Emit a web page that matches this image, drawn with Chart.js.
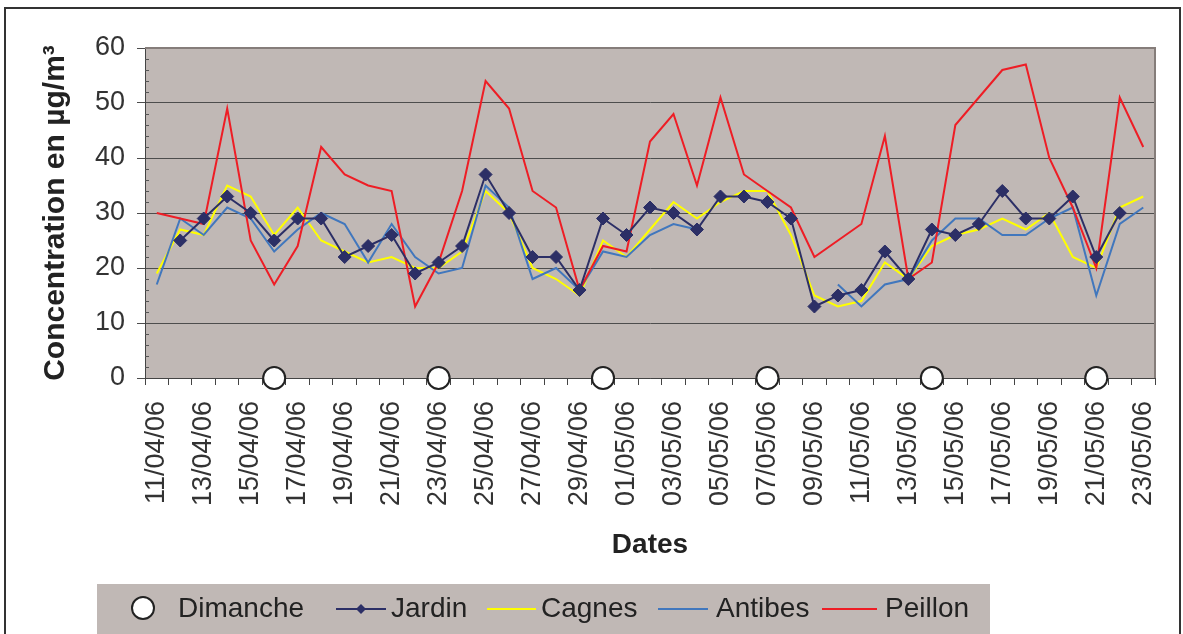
<!DOCTYPE html>
<html><head><meta charset="utf-8">
<script src="https://cdn.jsdelivr.net/npm/chart.js@4/dist/chart.umd.min.js"></script>
<style>html,body{margin:0;padding:0;background:#fff;}canvas{display:block;}</style>
</head><body>
<canvas id="c" width="1183" height="634"></canvas>
<script>
const categories = ['11/04/06','12/04/06','13/04/06','14/04/06','15/04/06','16/04/06','17/04/06','18/04/06','19/04/06','20/04/06',
  '21/04/06','22/04/06','23/04/06','24/04/06','25/04/06','26/04/06','27/04/06','28/04/06','29/04/06','30/04/06',
  '01/05/06','02/05/06','03/05/06','04/05/06','05/05/06','06/05/06','07/05/06','08/05/06','09/05/06','10/05/06',
  '11/05/06','12/05/06','13/05/06','14/05/06','15/05/06','16/05/06','17/05/06','18/05/06','19/05/06','20/05/06',
  '21/05/06','22/05/06','23/05/06'];
const jardin  = [null,25,29,33,30,25,29,29,22,24,26,19,21,24,37,30,22,22,16,29,26,31,30,27,33,33,32,29,13,15,16,23,18,27,26,28,34,29,29,33,22,30,null];
const cagnes  = [19,27,26,35,33,26,31,25,23,21,22,20,20,23,34,30,20,18,15,25,22,27,32,29,32,34,34,26,15,13,14,21,18,24,26,27,29,27,30,22,20,31,33];
const antibes = [17,29,26,31,29,23,27,30,28,21,28,22,19,20,35,31,18,20,16,23,22,26,28,27,null,null,null,null,null,17,13,17,18,25,29,29,26,26,29,31,15,28,31];
const peillon = [30,29,28,49,25,17,24,42,37,35,34,13,21,34,54,49,34,31,16,24,23,43,48,35,51,37,34,31,22,25,28,44,18,21,46,51,56,57,40,31,20,51,42];
const dimanches = ['16/04/06','23/04/06','30/04/06','07/05/06','14/05/06','21/05/06'];
const yMin = 0, yMax = 60, yStep = 10, yMinorStep = 2;

const FONT = "'Liberation Sans', Arial, sans-serif";
const C_JARDIN = '#2c2f66', C_CAGNES = '#ffff00', C_ANTIBES = '#4177bd', C_PEILLON = '#ee1d25';
const PLOT_BG = '#c0b8b5';

const dimancheData = categories.map(c => dimanches.includes(c) ? 0 : null);

const decorPlugin = {
  id: 'decor',
  beforeDraw(chart) {
    const {ctx, chartArea: a} = chart;
    ctx.save();
    ctx.fillStyle = PLOT_BG;
    ctx.fillRect(a.left, a.top, a.right - a.left, a.bottom - a.top);
    ctx.restore();
  },
  beforeDatasetsDraw(chart) {
    const {ctx, chartArea: a, scales} = chart;
    ctx.save();
    ctx.strokeStyle = '#857d7a';
    ctx.lineWidth = 2;
    ctx.beginPath();
    ctx.moveTo(a.left, a.top); ctx.lineTo(a.right, a.top); ctx.lineTo(a.right, a.bottom);
    ctx.stroke();
    ctx.strokeStyle = '#555';
    ctx.lineWidth = 1;
    const y = scales.y;
    for (let v = yMin; v <= yMax; v += yMinorStep) {
      if (v % yStep === 0) continue;
      const p = Math.round(y.getPixelForValue(v)) + 0.5;
      ctx.beginPath(); ctx.moveTo(a.left, p); ctx.lineTo(a.left + 4, p); ctx.stroke();
    }
    ctx.restore();
  },
  afterDraw(chart) {
    const {ctx} = chart;
    ctx.save();
    ctx.strokeStyle = '#333';
    ctx.lineWidth = 2;
    ctx.strokeRect(5, 8, 1175, 660);
    ctx.fillStyle = PLOT_BG;
    ctx.fillRect(97, 584, 893, 52);
    ctx.font = '28px ' + FONT;
    ctx.textBaseline = 'middle';
    ctx.textAlign = 'left';
    const ly = 609;
    const ds = chart.data.datasets;
    const byLabel = l => ds.find(d => d.label === l);
    ctx.beginPath(); ctx.arc(143, ly - 1, 11, 0, Math.PI * 2);
    ctx.fillStyle = '#fff'; ctx.fill();
    ctx.strokeStyle = '#222'; ctx.lineWidth = 2; ctx.stroke();
    ctx.fillStyle = '#222'; ctx.fillText('Dimanche', 178, ly);
    const items = [
      {label: 'Jardin', x0: 336, x1: 386, tx: 391, diamond: true},
      {label: 'Cagnes', x0: 487, x1: 536, tx: 541},
      {label: 'Antibes', x0: 658, x1: 708, tx: 716},
      {label: 'Peillon', x0: 822, x1: 877, tx: 885}
    ];
    items.forEach(it => {
      const d = byLabel(it.label);
      ctx.strokeStyle = d.borderColor; ctx.lineWidth = 2;
      ctx.beginPath(); ctx.moveTo(it.x0, ly); ctx.lineTo(it.x1, ly); ctx.stroke();
      if (it.diamond) {
        const cx = (it.x0 + it.x1) / 2, r = 5;
        ctx.fillStyle = d.borderColor;
        ctx.beginPath(); ctx.moveTo(cx - r, ly); ctx.lineTo(cx, ly - r); ctx.lineTo(cx + r, ly); ctx.lineTo(cx, ly + r); ctx.closePath(); ctx.fill();
      }
      ctx.fillStyle = '#222';
      ctx.fillText(it.label, it.tx, ly);
    });
    ctx.restore();
  }
};

new Chart(document.getElementById('c'), {
  type: 'line',
  data: {
    labels: categories,
    datasets: [
      {label: 'Dimanche', data: dimancheData, showLine: false, pointRadius: 11, pointHoverRadius: 11,
       pointBackgroundColor: '#fff', pointBorderColor: '#222', pointBorderWidth: 2, borderColor: '#222', order: 0, clip: false},
      {label: 'Jardin', data: jardin, borderColor: C_JARDIN, backgroundColor: C_JARDIN, borderWidth: 2,
       pointStyle: 'rectRot', pointRadius: 6.5, pointBackgroundColor: C_JARDIN, pointBorderColor: C_JARDIN, pointBorderWidth: 1, order: 1, clip: false},
      {label: 'Peillon', data: peillon, borderColor: C_PEILLON, borderWidth: 2, pointRadius: 0, order: 2, clip: false},
      {label: 'Antibes', data: antibes, borderColor: C_ANTIBES, borderWidth: 2, pointRadius: 0, order: 3, clip: false},
      {label: 'Cagnes', data: cagnes, borderColor: C_CAGNES, borderWidth: 2, pointRadius: 0, order: 4, clip: false}
    ]
  },
  options: {
    responsive: false,
    animation: false,
    events: [],
    layout: {padding: {left: 10, top: 48, right: 28, bottom: 64}},
    elements: {line: {tension: 0}},
    plugins: {legend: {display: false}, tooltip: {enabled: false}, title: {display: false}},
    scales: {
      x: {
        type: 'category',
        offset: true,
        grid: {offset: true, drawOnChartArea: false, drawTicks: true, tickLength: 7, color: '#444', lineWidth: 1},
        border: {display: true, color: '#444', width: 1},
        ticks: {autoSkip: false, maxRotation: 90, minRotation: 90, padding: 16, color: '#333',
          font: {family: FONT, size: 27},
          callback: (v, i) => i % 2 === 0 ? categories[i] : ''},
        title: {display: true, text: 'Dates', color: '#222', font: {family: FONT, size: 28, weight: 'bold'}, padding: {top: 0, bottom: 8}},
        afterFit: s => { s.height = 192; s.paddingLeft = 0; s.paddingRight = 0; }
      },
      y: {
        min: yMin, max: yMax,
        ticks: {stepSize: yStep, padding: 12, color: '#333', font: {family: FONT, size: 27}},
        grid: {color: '#4d4d4d', lineWidth: 1, tickLength: 8, drawTicks: true},
        border: {display: true, color: '#444', width: 1},
        title: {display: true, text: 'Concentration en µg/m³', color: '#222', font: {family: FONT, size: 30, weight: 'bold'}, padding: {top: 28, bottom: 0}},
        afterFit: s => { s.width = 135; s.paddingTop = 0; s.paddingBottom = 0; }
      }
    }
  },
  plugins: [decorPlugin]
});
</script>
</body></html>
